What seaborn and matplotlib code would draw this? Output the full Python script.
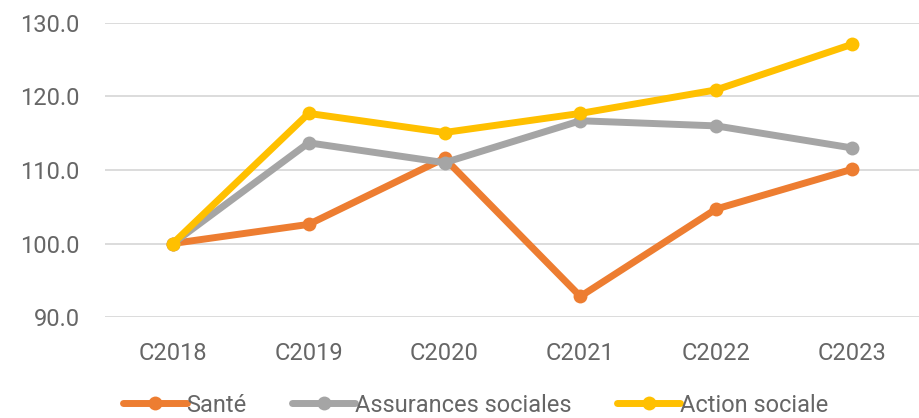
import pandas as pd
import matplotlib.pyplot as plt
import seaborn as sns

years = ["C2018", "C2019", "C2020", "C2021", "C2022", "C2023"]
sante = [100.0, 102.6, 111.6, 92.8, 104.7, 110.1]
assurances = [100.0, 113.7, 111.0, 116.7, 116.0, 113.0]
action = [100.0, 117.7, 115.1, 117.7, 120.9, 127.1]
series_names = ["Santé", "Assurances sociales", "Action sociale"]
colors = ["#ED7D31", "#A5A5A5", "#FFC000"]
y_ticks = [90, 100, 110, 120, 130]

sns.set_theme(style="white")
plt.rcParams['font.family'] = ['Roboto', 'DejaVu Sans']

df = pd.DataFrame({
    'annee': years * 3,
    'valeur': sante + assurances + action,
    'serie': [series_names[0]] * 6 + [series_names[1]] * 6 + [series_names[2]] * 6,
})

fig = plt.figure(figsize=(9.2, 4.18), dpi=100)
ax = fig.add_axes([0.114, 0.2416, 0.886, 0.7034])

sns.lineplot(data=df, x='annee', y='valeur', hue='serie', hue_order=series_names,
             palette=colors, marker='o', markersize=10, markeredgewidth=0,
             linewidth=5, ax=ax, sort=False)

ax.set_xlim(-0.5, 5.5)
ax.set_ylim(90, 130)
ax.set_yticks(y_ticks)
ax.set_yticklabels([f"{v:.1f}" for v in y_ticks])
ax.set_xlabel("")
ax.set_ylabel("")
ax.grid(axis='y', color='#d9d9d9', linewidth=1.3)
ax.set_axisbelow(True)
for s in ax.spines.values():
    s.set_visible(False)
ax.tick_params(axis='both', length=0, labelsize=17, labelcolor='#666666')
ax.tick_params(axis='y', pad=18)
ax.tick_params(axis='x', pad=18)

ax.legend(loc='center', bbox_to_anchor=(0.455, -0.30), ncol=3, frameon=False,
          fontsize=17, labelcolor='#666666', handlelength=2.7, handletextpad=0.0,
          columnspacing=1.9, borderaxespad=0)

fig.savefig('out.png', dpi=100)
